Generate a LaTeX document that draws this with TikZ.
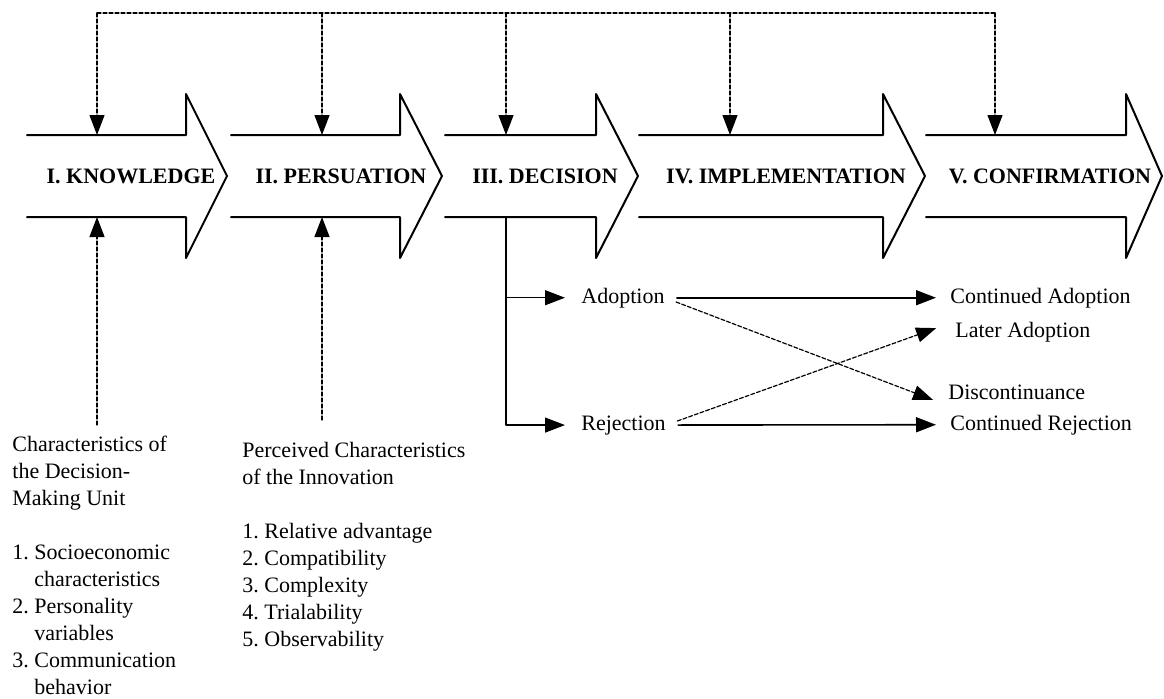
\documentclass[tikz,border=0pt]{standalone}
\usepackage{fontspec}
\setmainfont{Liberation Serif}
\usetikzlibrary{arrows.meta}
\begin{document}
\begin{tikzpicture}[x=0.5pt,y=-0.5pt,>={Triangle[length=10pt,width=7.5pt]}, font=\fontsize{11}{13.5}\selectfont\frenchspacing, line join=round, line cap=round,
	stage/.style={line width=1pt},
	lbl/.style={inner sep=0pt, font=\fontsize{11}{13.5}\selectfont\bfseries},
	res/.style={inner sep=0pt, anchor=base west},
	txt/.style={inner sep=0pt, anchor=north west, align=left},
	fb/.style={dash pattern=on 2pt off 1pt, line width=0.6pt},
	go/.style={line width=0.8pt, shorten <=6pt, shorten >=7pt}]
		\def\ytop{94} \def\yup{135} \def\ymid{176} \def\ylow{217} \def\ybot{258} % muc mui ten
		\useasboundingbox (0,0) rectangle (1164,698);
		% nam giai doan
		\foreach \xl/\xs/\xt in {27/186/227,231/400/442,445/596/638,639/883/925,926/1126/1162}
		\draw[stage] (\xl,\yup)--(\xs,\yup)--(\xs,\ytop)--(\xt,\ymid)--(\xs,\ybot)--(\xs,\ylow)--(\xl,\ylow);
		\node[lbl] (know) at (131,\ymid) {I. KNOWLEDGE};
		\node[lbl] (pers) at (341,\ymid) {II. PERSUATION};
		\node[lbl] (deci) at (545,\ymid) {III. DECISION};
		\node[lbl] (impl) at (786,\ymid) {IV. IMPLEMENTATION};
		\node[lbl] (conf) at (1050,\ymid) {V. CONFIRMATION};
		\foreach \i/\x in {1/97,2/322,3/506,4/730,5/995}{
			\coordinate (top\i) at (\x,13);
			\coordinate (in\i) at (\x,\yup);
			\coordinate (low\i) at (\x,\ylow);}
		\draw[fb] (top1)--(top5);
		\foreach \i in {1,...,5}
		\draw[fb,->] (top\i)--(in\i);
		% ket qua
		\node[res] (adopt) at (581,303) {Adoption};
		\node[res] (reject) at (581,430) {Rejection};
		\node[res] (contad) at (950,303) {Continued Adoption};
		\node[res] (later) at (955,337) {Later Adoption};
		\node[res] (discont) at (948,399) {Discontinuance};
		\node[res] (contrej) at (950,430) {Continued Rejection};
		\draw[line width=0.6pt,->,shorten >=8pt] (low3) |- (adopt.west);
		\draw[line width=0.6pt,->,shorten >=8pt] (low3) |- (reject.west);
		\draw[go,->] (adopt.east)--(contad.west);
		\draw[go,->] (reject.east)--(contrej.west);
		\draw[fb,->,shorten <=6pt,shorten >=8pt] (adopt.east)--([yshift=-3pt]discont.south west);
		\draw[fb,->,shorten <=6pt,shorten >=10pt] (reject.east)--(later.north west);
		% dac diem
		\node[txt] (dmu) at (12,436) {Characteristics of\\the Decision-\\Making Unit\\[13.5pt]1. Socioeconomic\\\phantom{1. }characteristics\\2. Personality\\\phantom{2. }variables\\3. Communication\\\phantom{3. }behavior};
		\node[txt] (pci) at (242,442) {Perceived Characteristics\\of the Innovation\\[13.5pt]1. Relative advantage\\2. Compatibility\\3. Complexity\\4. Trialability\\5. Observability};
		\coordinate (foot1) at (97,425);
		\coordinate (foot2) at (322,420);
		\draw[fb,->] (foot1)--(low1);
		\draw[fb,->] (foot2)--(low2);
\end{tikzpicture}
\end{document}
